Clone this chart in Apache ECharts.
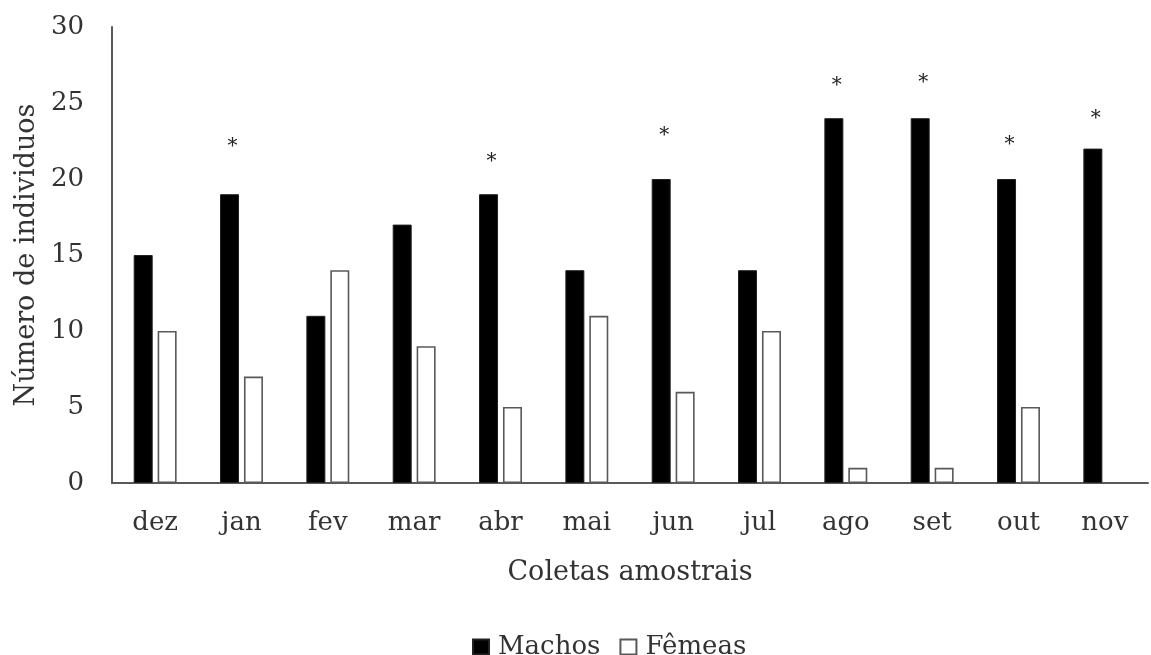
<!DOCTYPE html>
<html>
<head>
<meta charset="utf-8">
<script src="https://cdn.jsdelivr.net/npm/echarts@6/dist/echarts.min.js"></script>
<style>
html,body{margin:0;padding:0;background:#fff;}
#chart{width:1151px;height:655px;}
</style>
</head>
<body>
<div id="chart"></div>
<script>
const categories = ['dez','jan','fev','mar','abr','mai','jun','jul','ago','set','out','nov'];
const machos = [15,19,11,17,19,14,20,14,24,24,20,22];
const femeas = [10,7,14,9,5,11,6,10,1,1,5,0];
// height (axis units) of the significance asterisk; null = none
const asterisco = [null,22.4,null,null,21.4,null,23.1,null,26.4,26.6,22.5,24.2];
const yTicks = [0,5,10,15,20,25,30];

const FONT = 'DejaVu Serif';
const GRAY = '#595959';
const TXT = '#333';
const astGap = asterisco.map((v,i) => v == null ? 0 : v - machos[i]);

const chart = echarts.init(document.getElementById('chart'), null, {renderer:'canvas'});
chart.setOption({
  animation:false,
  backgroundColor:'#fff',
  textStyle:{fontFamily:FONT},
  grid:{left:112,right:3,top:27,bottom:172},
  legend:{
    data:['Machos','Fêmeas'],
    left:467, top:629,
    itemWidth:16, itemHeight:15, itemGap:19,
    icon:'rect',
    textStyle:{fontFamily:FONT,fontSize:26,color:TXT,padding:[0,0,0,4]}
  },
  xAxis:{
    type:'category',
    data:categories,
    axisLine:{lineStyle:{color:GRAY,width:2}},
    axisTick:{show:false},
    axisLabel:{fontFamily:FONT,fontSize:26,color:TXT,margin:27},
    name:'Coletas amostrais',
    nameLocation:'middle',
    nameGap:76,
    nameTextStyle:{fontFamily:FONT,fontSize:27,color:TXT}
  },
  yAxis:{
    type:'value',
    min:yTicks[0], max:yTicks[yTicks.length-1], interval:5,
    axisLine:{show:true,lineStyle:{color:GRAY,width:2}},
    axisTick:{show:false},
    splitLine:{show:false},
    axisLabel:{fontFamily:FONT,fontSize:26,color:TXT,margin:28},
    name:'Número de individuos',
    nameLocation:'middle',
    nameGap:72,
    nameTextStyle:{fontFamily:FONT,fontSize:27,color:TXT}
  },
  series:[
    {
      name:'Machos', type:'bar', stack:'m',
      data:machos,
      barWidth:19, barGap:'26%',
      itemStyle:{color:'#000',borderColor:'#222',borderWidth:1}
    },
    {
      name:'ast', type:'bar', stack:'m',
      data:astGap,
      itemStyle:{color:'rgba(0,0,0,0)'},
      label:{
        show:true, position:'top', distance:0, verticalAlign:'middle',
        formatter:p => asterisco[p.dataIndex] == null ? '' : '*',
        fontFamily:FONT, fontSize:20, color:'#222', offset:[3,4]
      },
      silent:true
    },
    {
      name:'Fêmeas', type:'bar',
      data:femeas,
      barWidth:19,
      itemStyle:{color:'#fff',borderColor:GRAY,borderWidth:1.6}
    }
  ]
});
</script>
</body>
</html>
